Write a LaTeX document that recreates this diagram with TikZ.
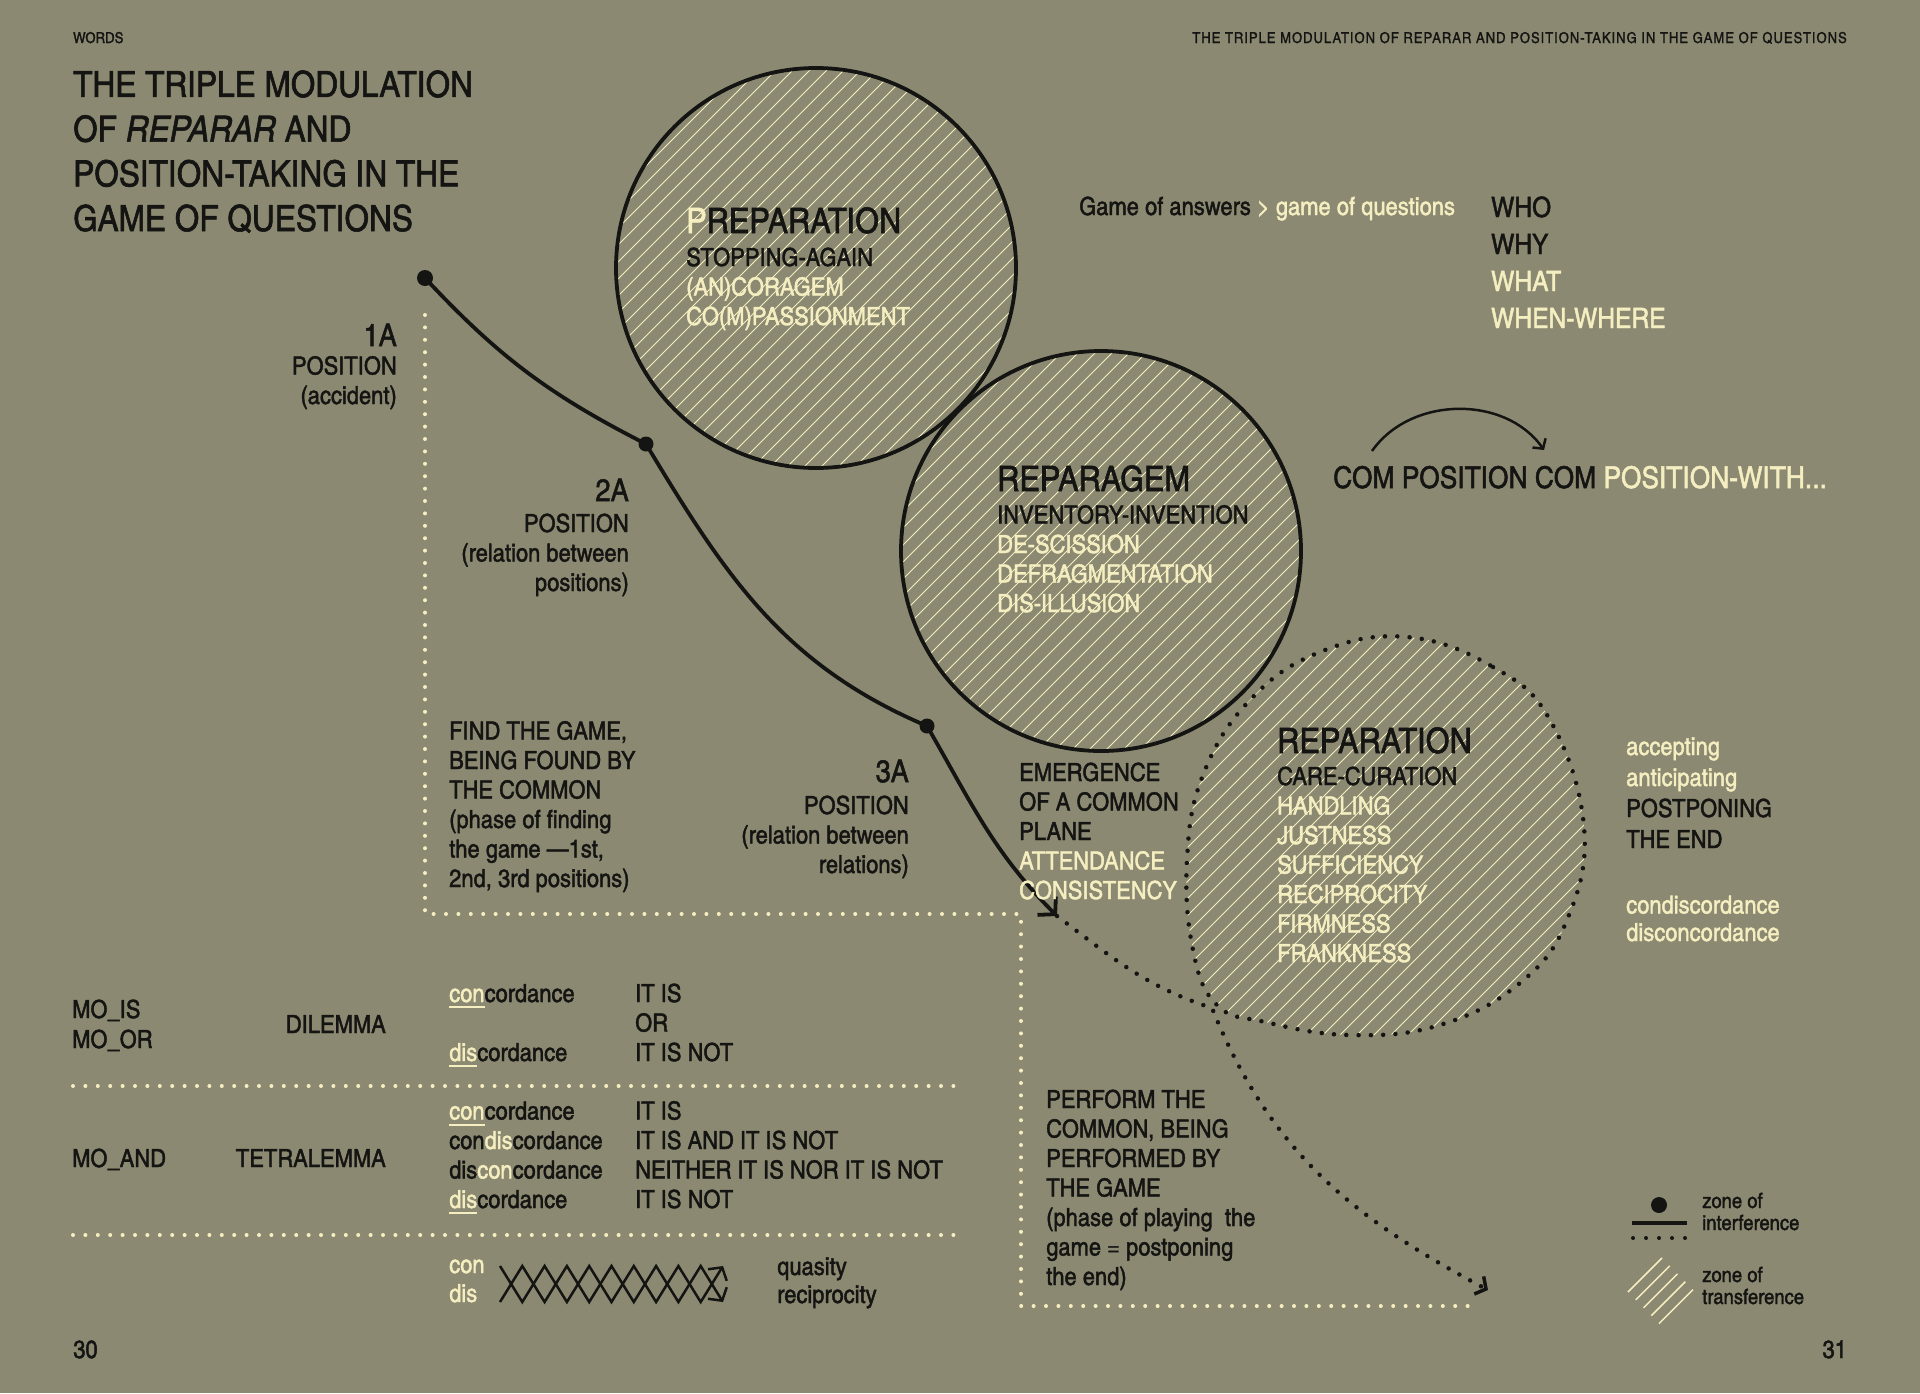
\documentclass[tikz,border=0pt]{standalone}
\usepackage{fontspec}
\setmainfont{texgyreheroscn}[Extension=.otf, UprightFont=*-regular, BoldFont=*-bold, ItalicFont=*-italic, BoldItalicFont=*-bolditalic, FakeStretch=1.07, FakeBold=1.6]
\newfontfamily\runfont{texgyreheroscn}[Extension=.otf, UprightFont=*-regular, FakeStretch=1.07, FakeBold=1.2, LetterSpace=6]
\usetikzlibrary{arrows.meta}
\definecolor{paper}{RGB}{140,137,114}
\definecolor{ink}{RGB}{20,20,18}
\definecolor{cream}{RGB}{244,238,192}
\newcommand{\lite}[1]{\textcolor{cream}{#1}}
\newcommand{\ulite}[1]{\textcolor{cream}{\setbox0\hbox{#1}\rlap{\rule[-6pt]{\wd0}{2pt}}\box0}}
\begin{document}
\begin{tikzpicture}[x=1pt, y=1pt,
  ring/.style={draw=ink, line width=3.8pt},
  dotring/.style={draw=ink, line width=4.5pt, line cap=round, dash pattern=on 0pt off 12.3pt},
  hatchline/.style={draw=cream, line width=1pt},
  joint/.style={circle, fill=ink, inner sep=0pt, minimum size=15pt},
  curveline/.style={draw=ink, line width=3.8pt},
  framedots/.style={draw=cream, line width=4pt, line cap=round, dash pattern=on 0pt off 12.4pt},
  barb/.style={-{Straight Barb[length=12pt, width=26pt]}},
  txt/.style={inner sep=0pt, text=ink, anchor=base west, align=left},
  body/.style={txt, font=\fontsize{25}{29.5}\selectfont},
  bodyr/.style={body, anchor=base east, align=right},
  heading/.style={txt, font=\fontsize{35}{40}\selectfont},
  tag/.style={txt, anchor=base east, font=\fontsize{31}{36}\selectfont},
  legendtext/.style={txt, font=\fontsize{21}{22}\selectfont}]

  \fill[paper] (0,0) rectangle (1920,-1393);
  \useasboundingbox (0,0) rectangle (1920,-1393);

  % hatching
  \begin{scope}
    \clip (816,-268) circle[radius=200];
    \foreach \k in {-18,...,18}
      \draw[hatchline] ({816+17*\k-300},-568) -- ++(600,600);
  \end{scope}
  \begin{scope}
    \clip (1101,-551) circle[radius=200];
    \foreach \k in {-18,...,18}
      \draw[hatchline] ({1101+17*\k-300},-851) -- ++(600,600);
  \end{scope}
  \begin{scope}
    \clip plot[smooth cycle, tension=0.7] coordinates {(1407,-637) (1493,-667) (1550,-720) (1584,-827) (1567,-920) (1520,-983) (1440,-1025) (1350,-1035) (1265,-1022) (1217,-1005) (1193,-950) (1187,-860) (1203,-775) (1250,-700) (1320,-652)};
    \foreach \k in {-19,...,19}
      \draw[hatchline] ({1386+17*\k-320},-1156) -- ++(640,640);
  \end{scope}

  \draw[ring] (816,-268) circle[radius=200];
  \draw[ring] (1101,-551) circle[radius=200];
  \draw[dotring] plot[smooth cycle, tension=0.7] coordinates {(1407,-637) (1493,-667) (1550,-720) (1584,-827) (1567,-920) (1520,-983) (1440,-1025) (1350,-1035) (1265,-1022) (1217,-1005) (1193,-950) (1187,-860) (1203,-775) (1250,-700) (1320,-652)};

  % the path of positions
  \node[joint, minimum size=16pt] (p1) at (425,-278) {};
  \node[joint] (p2) at (646,-444) {};
  \node[joint] (p3) at (927,-726) {};
  \coordinate (e1) at (1057,-916);
  \coordinate (e2) at (1212,-1008);
  \coordinate (e3) at (1488,-1290);

  \draw[curveline, barb] (p1.center) to[out=-47,in=153] (p2.center) to[out=-59,in=157] (p3.center) to[out=-60,in=135] (e1);
  \draw[dotring, -{Straight Barb[length=8pt, width=20pt, line width=3.5pt]}] (e1) to[out=-37,in=162] (e2) to[out=-68,in=152] (e3);

  \draw[framedots] (425,-315) -- (425,-914) -- (1021,-914) -- (1021,-1306) -- (1475,-1306);
  \draw[framedots] (73,-1086) -- (959,-1086);
  \draw[framedots] (73,-1235) -- (959,-1235);

  \coordinate (c1) at (1372,-451);
  \coordinate (c2) at (1544,-450);
  \draw[draw=ink, line width=2.5pt, -{Straight Barb[length=7pt, width=16pt]}] (c1) to[out=55,in=125] (c2);

  \draw[draw=ink, line width=2.5pt, -{Straight Barb[length=9pt, width=22pt, line width=2.5pt]}] (500,-1266) \foreach \i in {1,...,10} { -- ({500+22.3*\i},{-1284+18*cos(180*\i)}) };
  \draw[draw=ink, line width=2.5pt, -{Straight Barb[length=9pt, width=22pt, line width=2.5pt]}] (500,-1302) \foreach \i in {1,...,10} { -- ({500+22.3*\i},{-1284-18*cos(180*\i)}) };

  % legend
  \node[joint, minimum size=16pt] (lgdot) at (1659,-1205) {};
  \draw[draw=ink, line width=4pt] (1632,-1223) -- (1687,-1223);
  \draw[dotring, line width=4pt, dash pattern=on 0pt off 13pt] (1633,-1238) -- (1686,-1238);
  \foreach \k in {0,...,4}
    \draw[hatchline, line width=1.5pt] ({1628+7.75*\k},{-1292-7.9*\k}) -- ++(34,34);
  \node[legendtext] (lg1) at (1702,-1230) {zone of\\interference};
  \node[legendtext] (lg2) at (1702,-1304) {zone of\\transference};

  % texts (anchored at the baseline of the last line)
  \node[txt, font=\fontsize{15}{18}\selectfont] (words) at (73,-43) {WORDS};
  \node[txt, anchor=base east, font=\runfont\fontsize{15}{18}\selectfont] (runhead) at (1847,-43) {THE TRIPLE MODULATION OF REPARAR AND POSITION-TAKING IN THE GAME OF QUESTIONS};
  \node[txt, font=\fontsize{36}{44.7}\selectfont] (title) at (73,-231) {THE TRIPLE MODULATION\\OF \textit{REPARAR} AND\\POSITION-TAKING IN THE\\GAME OF QUESTIONS};

  \node[heading] (prep) at (686,-233) {\lite{P}REPARATION};
  \node[body] (prepl) at (686,-325) {STOPPING-AGAIN\\\lite{(AN)CORAGEM}\\\lite{CO(M)PASSIONMENT}};
  \node[heading] (rpgm) at (997,-491) {REPARAGEM};
  \node[body] (rpgml) at (997,-612) {INVENTORY-INVENTION\\\lite{DE-SCISSION}\\\lite{DEFRAGMENTATION}\\\lite{DIS-ILLUSION}};
  \node[heading] (rptn) at (1277,-753) {REPARATION};
  \node[body] (rptnl) at (1277,-962) {CARE-CURATION\\\lite{HANDLING}\\\lite{JUSTNESS}\\\lite{SUFFICIENCY}\\\lite{RECIPROCITY}\\\lite{FIRMNESS}\\\lite{FRANKNESS}};

  \node[tag] (t1) at (397,-346) {1A};
  \node[bodyr] (t1l) at (397,-404) {POSITION\\(accident)};
  \node[tag] (t2) at (629,-501) {2A};
  \node[bodyr] (t2l) at (629,-591) {POSITION\\(relation between\\positions)};
  \node[tag] (t3) at (909,-782) {3A};
  \node[bodyr] (t3l) at (909,-873) {POSITION\\(relation between\\relations)};

  \node[body] (answers) at (1079,-215) {Game of answers \lite{> game of questions}};
  \node[txt, font=\fontsize{28}{37}\selectfont] (who) at (1491,-328) {WHO\\WHY\\\lite{WHAT}\\\lite{WHEN-WHERE}};
  \node[txt, font=\fontsize{30}{36}\selectfont] (compos) at (1333,-488) {COM POSITION COM \lite{POSITION-WITH...}};

  \node[body] (find) at (449,-887) {FIND THE GAME,\\BEING FOUND BY\\THE COMMON\\(phase of finding\\the game —1st,\\2nd, 3rd positions)};
  \node[body] (emerge) at (1019,-899) {EMERGENCE\\OF A COMMON\\PLANE\\\lite{ATTENDANCE}\\\lite{CONSISTENCY}};
  \node[body] (perform) at (1046,-1285) {PERFORM THE\\COMMON, BEING\\PERFORMED BY\\THE GAME\\(phase of playing~ the\\game = postponing\\the end)};
  \node[body, font=\fontsize{25}{31}\selectfont] (accept) at (1626,-848) {\lite{accepting}\\\lite{anticipating}\\POSTPONING\\THE END};
  \node[body, font=\fontsize{25}{27.5}\selectfont] (condisc) at (1626,-941) {\lite{condiscordance}\\\lite{disconcordance}};

  \node[body, font=\fontsize{25}{30}\selectfont] (mois) at (72,-1048) {MO\_IS\\MO\_OR};
  \node[bodyr] (dilemma) at (386,-1033) {DILEMMA};
  \node[body] (dcon) at (449,-1002) {\ulite{con}cordance};
  \node[body] (ddis) at (449,-1061) {\ulite{dis}cordance};
  \node[body] (dval) at (635,-1061) {IT IS\\OR\\IT IS NOT};
  \node[body] (moand) at (72,-1167) {MO\_AND};
  \node[bodyr] (tetra) at (386,-1167) {TETRALEMMA};
  \node[body] (tcon) at (449,-1208) {\ulite{con}cordance\\con\lite{dis}cordance\\dis\lite{con}cordance\\\ulite{dis}cordance};
  \node[body] (tval) at (635,-1208) {IT IS\\IT IS AND IT IS NOT\\NEITHER IT IS NOR IT IS NOT\\IT IS NOT};
  \node[body, font=\fontsize{25}{29}\selectfont] (condis) at (449,-1302) {\lite{con}\\\lite{dis}};
  \node[body, font=\fontsize{25}{28}\selectfont] (quasi) at (777,-1303) {quasity\\reciprocity};

  \node[txt, font=\fontsize{25}{30}\selectfont] (pg30) at (73,-1358) {30};
  \node[txt, anchor=base east, font=\fontsize{25}{30}\selectfont] (pg31) at (1847,-1358) {31};
\end{tikzpicture}
\end{document}
